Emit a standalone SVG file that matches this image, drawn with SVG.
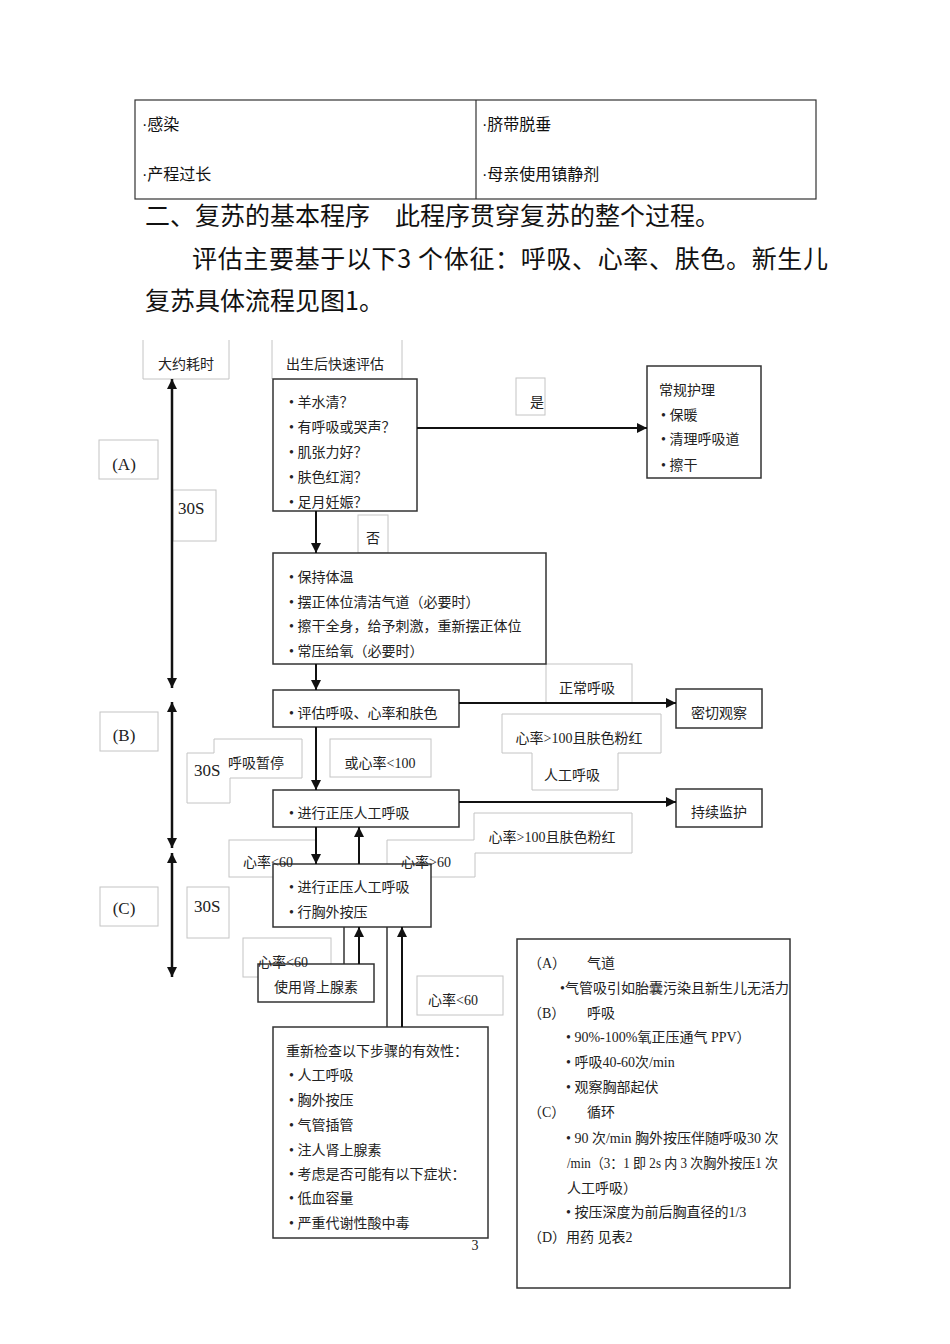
<svg xmlns="http://www.w3.org/2000/svg" width="950" height="1344" viewBox="0 0 950 1344">
<defs>
<style>
.box{fill:#fff;stroke:#333;stroke-width:1.5}
.lbl{fill:#fff;stroke:#c4c4c4;stroke-width:1}
.t{font-family:"Liberation Serif","Noto Sans CJK SC",serif;font-size:14px;fill:#222}
.l{font-family:"Liberation Serif","Noto Sans CJK SC",serif;font-size:17px;fill:#222}
.h{font-family:"Noto Sans CJK SC",sans-serif;fill:#111}
.tb{font-family:"Liberation Sans","Noto Sans CJK SC",sans-serif;font-size:16px;fill:#111}
.arr{stroke:#111;stroke-width:2;fill:none;marker-end:url(#ah)}
.ln{stroke:#333;stroke-width:1.5;fill:none}
.ax{stroke:#111;stroke-width:2.5;fill:none;marker-start:url(#ah);marker-end:url(#ah)}
.m{text-anchor:middle}
</style>
<marker id="ah" viewBox="0 0 10 10" refX="10" refY="5" markerWidth="10" markerHeight="10" markerUnits="userSpaceOnUse" orient="auto-start-reverse"><path d="M0,0 L10,5 L0,10 z" fill="#111"/></marker>
</defs>
<rect width="950" height="1344" fill="#fff"/>

<g id="table">
<rect x="135" y="100" width="681" height="99" fill="none" stroke="#333" stroke-width="1.2"/>
<line x1="476" y1="100" x2="476" y2="199" stroke="#333" stroke-width="1.2"/>
<text class="tb" x="142" y="130">·感染</text>
<text class="tb" x="142" y="180">·产程过长</text>
<text class="tb" x="482" y="130">·脐带脱垂</text>
<text class="tb" x="482" y="180">·母亲使用镇静剂</text>
</g>

<g id="heading">
<text class="h" font-size="25" x="145" y="225">二、复苏的基本程序　此程序贯穿复苏的整个过程。</text>
<text class="h" font-size="25" x="192" y="268" textLength="636" lengthAdjust="spacing">评估主要基于以下3 个体征：呼吸、心率、肤色。新生儿</text>
<text class="h" font-size="25" x="145" y="310">复苏具体流程见图1。</text>
</g>

<g id="label-boxes">
<path class="lbl" d="M143,340 V379 H229 V340"/>
<path class="lbl" d="M272,340 V379 M402,379 V340" fill="none"/>
<rect class="lbl" x="99" y="440" width="59" height="39"/>
<rect class="lbl" x="173" y="490" width="43" height="51"/>
<rect class="lbl" x="516" y="378" width="29" height="37"/>
<rect class="lbl" x="358" y="515" width="30" height="38"/>
<rect class="lbl" x="546" y="664" width="86" height="39"/>
<path class="lbl" d="M502,714 H661 V753 H618 V790 H532 V753 H502 Z"/>
<rect class="lbl" x="100" y="712" width="58" height="39"/>
<path class="lbl" d="M214,739 H302 V778 H230 V803 H187 V753 H214 Z"/>
<rect class="lbl" x="330" y="739" width="101" height="38"/>
<path class="lbl" d="M474,813 H632 V853 H475 V877 H387 V840 H474 Z"/>
<rect class="lbl" x="229" y="840" width="87" height="37"/>
<rect class="lbl" x="100" y="887" width="58" height="39"/>
<rect class="lbl" x="187" y="887" width="42" height="51"/>
<rect class="lbl" x="243" y="938" width="88" height="39"/>
<rect class="lbl" x="417" y="976" width="86" height="39"/>
</g>

<g id="quick-assess">
<rect class="box" x="273" y="379" width="144" height="132"/>
<text class="t" x="289" y="407">• 羊水清？</text>
<text class="t" x="289" y="432">• 有呼吸或哭声？</text>
<text class="t" x="289" y="457">• 肌张力好？</text>
<text class="t" x="289" y="482">• 肤色红润？</text>
<text class="t" x="289" y="507">• 足月妊娠？</text>
</g>

<g id="routine-care">
<rect class="box" x="647" y="366" width="114" height="112"/>
<text class="t" x="659" y="395">常规护理</text>
<text class="t" x="661" y="420">• 保暖</text>
<text class="t" x="661" y="444">• 清理呼吸道</text>
<text class="t" x="661" y="470">• 擦干</text>
</g>

<g id="initial-steps">
<rect class="box" x="273" y="553" width="273" height="111"/>
<text class="t" x="289" y="582">• 保持体温</text>
<text class="t" x="289" y="607">• 摆正体位清洁气道（必要时）</text>
<text class="t" x="289" y="631">• 擦干全身，给予刺激，重新摆正体位</text>
<text class="t" x="289" y="656">• 常压给氧（必要时）</text>
</g>

<g id="evaluate">
<rect class="box" x="273" y="690" width="186" height="37"/>
<text class="t" x="289" y="718">• 评估呼吸、心率和肤色</text>
</g>

<g id="observe">
<rect class="box" x="676" y="689" width="86" height="39"/>
<text class="t m" x="719" y="718">密切观察</text>
</g>

<g id="ppv">
<rect class="box" x="273" y="790" width="186" height="37"/>
<text class="t" x="289" y="818">• 进行正压人工呼吸</text>
</g>

<g id="monitor">
<rect class="box" x="676" y="789" width="86" height="38"/>
<text class="t m" x="719" y="817">持续监护</text>
</g>

<g id="ppv-compress">
<rect class="box" x="273" y="864" width="158" height="63"/>
<text class="t" x="289" y="892">• 进行正压人工呼吸</text>
<text class="t" x="289" y="917">• 行胸外按压</text>
</g>

<g id="epinephrine">
<rect class="box" x="258" y="964" width="116" height="38"/>
<text class="t m" x="316" y="992">使用肾上腺素</text>
</g>

<g id="recheck">
<rect class="box" x="273" y="1027" width="215" height="211"/>
<text class="t" x="286" y="1056">重新检查以下步骤的有效性：</text>
<text class="t" x="289" y="1080">• 人工呼吸</text>
<text class="t" x="289" y="1105">• 胸外按压</text>
<text class="t" x="289" y="1130">• 气管插管</text>
<text class="t" x="289" y="1155">• 注人肾上腺素</text>
<text class="t" x="289" y="1179">• 考虑是否可能有以下症状：</text>
<text class="t" x="289" y="1203">• 低血容量</text>
<text class="t" x="289" y="1228">• 严重代谢性酸中毒</text>
</g>

<g id="legend">
<rect class="box" x="517" y="939" width="273" height="349"/>
<text class="t" x="528" y="968">（A）</text>
<text class="t" x="587" y="968">气道</text>
<text class="t" x="560" y="993">•气管吸引如胎囊污染且新生儿无活力</text>
<text class="t" x="528" y="1018">（B）</text>
<text class="t" x="587" y="1018">呼吸</text>
<text class="t" x="566" y="1042">• 90%-100%氧正压通气  PPV）</text>
<text class="t" x="566" y="1067">• 呼吸40-60次/min</text>
<text class="t" x="566" y="1092">• 观察胸部起伏</text>
<text class="t" x="528" y="1117">（C）</text>
<text class="t" x="587" y="1117">循环</text>
<text class="t" x="566" y="1143">• 90 次/min 胸外按压伴随呼吸30 次</text>
<text class="t" x="567" y="1168" textLength="211" lengthAdjust="spacingAndGlyphs">/min（3：1 即 2s 内 3 次胸外按压1 次</text>
<text class="t" x="567" y="1193">人工呼吸）</text>
<text class="t" x="566" y="1217">• 按压深度为前后胸直径的1/3</text>
<text class="t" x="528" y="1242">（D）用药 见表2</text>
</g>

<g id="connectors">
<line class="ax" x1="172" y1="379" x2="172" y2="688"/>
<line class="ax" x1="172" y1="702" x2="172" y2="848"/>
<line class="ax" x1="172" y1="853" x2="172" y2="977"/>
<line class="arr" x1="417" y1="428" x2="647" y2="428"/>
<line class="arr" x1="316" y1="511" x2="316" y2="553"/>
<line class="arr" x1="316" y1="664" x2="316" y2="690"/>
<line class="arr" x1="459" y1="703" x2="676" y2="703"/>
<line class="arr" x1="316" y1="727" x2="316" y2="790"/>
<line class="arr" x1="459" y1="802" x2="676" y2="802"/>
<line class="arr" x1="316" y1="827" x2="316" y2="864"/>
<line class="arr" x1="359" y1="864" x2="359" y2="827"/>
<line class="ln" x1="344" y1="927" x2="344" y2="964"/>
<line class="arr" x1="359" y1="964" x2="359" y2="927"/>
<line class="ln" x1="387" y1="1027" x2="387" y2="927"/>
<line class="arr" x1="402" y1="1027" x2="402" y2="927"/>
</g>

<g id="label-texts">
<text class="t m" x="186" y="369">大约耗时</text>
<text class="t" x="286" y="369">出生后快速评估</text>
<text class="l m" x="124" y="470">(A)</text>
<text class="l" x="178" y="514">30S</text>
<text class="t" x="530" y="407">是</text>
<text class="t m" x="373" y="543">否</text>
<text class="t m" x="587" y="693">正常呼吸</text>
<text class="t m" x="579" y="743">心率&gt;100且肤色粉红</text>
<text class="t m" x="572" y="780">人工呼吸</text>
<text class="l m" x="124" y="741">(B)</text>
<text class="l" x="194" y="776">30S</text>
<text class="t" x="228" y="768">呼吸暂停</text>
<text class="t m" x="380" y="768">或心率&lt;100</text>
<text class="t m" x="552" y="842">心率&gt;100且肤色粉红</text>
<text class="t" x="243" y="867">心率&lt;60</text>
<text class="t" x="401" y="867">心率&gt;60</text>
<text class="l m" x="124" y="914">(C)</text>
<text class="l" x="194" y="912">30S</text>
<text class="t" x="258" y="967">心率&lt;60</text>
<text class="t" x="428" y="1005">心率&lt;60</text>
<text class="t m" x="475" y="1250" font-size="12">3</text>
</g>
</svg>
